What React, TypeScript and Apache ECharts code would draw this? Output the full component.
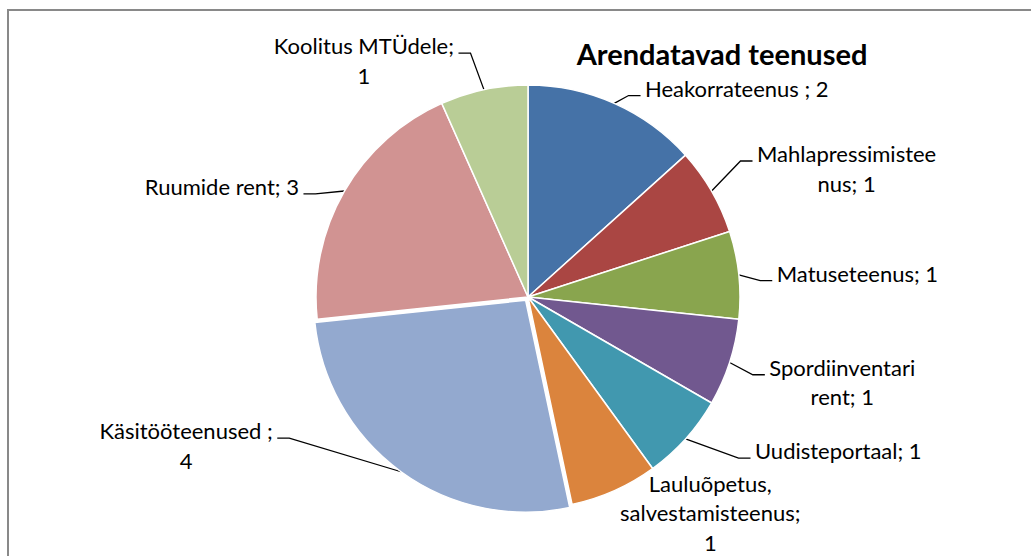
import React, { useEffect, useRef } from "react";
import * as echarts from "echarts";

const chartTitle = "Arendatavad teenused";
const categories = [
  "Heakorrateenus ",
  "Mahlapressimisteenus",
  "Matuseteenus",
  "Spordiinventari rent",
  "Uudisteportaal",
  "Lauluõpetus, salvestamisteenus",
  "Käsitööteenused ",
  "Ruumide rent",
  "Koolitus MTÜdele",
];
const values = [2, 1, 1, 1, 1, 1, 4, 3, 1];
const colors = ["#4572A7", "#AA4643", "#89A54E", "#71588F", "#4198AF", "#DB843D", "#93A9CF", "#D19392", "#B9CD96"];
// character offsets where the label "name; value" wraps onto a new line
const labelBreaks = [[], [17], [], [15], [], [12, 31], [17], [], [17]];
const explodedSlice = [false, false, false, false, false, false, true, false, false];
// label placement: [radial leader length, horizontal leader length]
const leaderLengths = [
  [16.75, 19], [45.5, 1], [17.2, 15.8], [63.1, -25.3], [17.6, 51.4],
  [24.4, -9.1], [-32.7, 142.5], [9.4, 32.3], [30, 18.7],
];
const showLeader = [true, true, true, true, true, false, true, true, true];

const FONT = "Lato, 'Open Sans', sans-serif";
const FS = 22;
const LH = 29.5;

function wrapLabel(i: number): string[] {
  const full = `${categories[i]}; ${values[i]}`;
  const cuts = [0, ...labelBreaks[i], full.length];
  const lines: string[] = [];
  for (let k = 0; k < cuts.length - 1; k++) lines.push(full.slice(cuts[k], cuts[k + 1]).trim());
  return lines;
}

export default function App() {
  const ref = useRef<HTMLDivElement>(null);
  useEffect(() => {
    if (!ref.current) return;
    const chart = echarts.init(ref.current, null, { renderer: "svg" });
    const data = categories.map((name, i) => ({
      name,
      value: values[i],
      selected: explodedSlice[i],
      itemStyle: { color: colors[i] },
      labelLine: { show: showLeader[i], length: leaderLengths[i][0], length2: leaderLengths[i][1] },
    }));
    chart.setOption({
      animation: false,
      title: {
        text: chartTitle,
        left: 722,
        top: 38.5,
        padding: 0,
        textAlign: "center",
        textStyle: { fontFamily: FONT, fontWeight: "bold", fontSize: 29, color: "#000", lineHeight: 29 },
      },
      graphic: [
        {
          type: "rect",
          shape: { x: 8, y: 10, width: 1200, height: 1000 },
          style: { fill: "none", stroke: "#898989", lineWidth: 2 },
          silent: true,
        },
      ],
      series: [
        {
          type: "pie",
          center: [528, 297],
          radius: 212,
          startAngle: 90,
          clockwise: true,
          selectedMode: "single",
          selectedOffset: 4,
          avoidLabelOverlap: false,
          itemStyle: { borderColor: "#ffffff", borderWidth: 1.5 },
          select: { itemStyle: { borderColor: "#ffffff", borderWidth: 1.5 } },
          emphasis: { disabled: true },
          label: {
            show: true,
            position: "outside",
            distanceToLabelLine: 5,
            color: "#000",
            fontFamily: FONT,
            fontSize: FS,
            lineHeight: LH,
            formatter: (p: any) => wrapLabel(p.dataIndex).map((l) => `{c|${l}}`).join("\n"),
            rich: { c: { align: "center", fontFamily: FONT, fontSize: FS, lineHeight: LH, color: "#000" } },
          },
          labelLine: { lineStyle: { color: "#000", width: 1.3 } },
          labelLayout: (params: any) => {
            const i = params.dataIndex;
            if (!showLeader[i] || !params.labelLinePoints) return {};
            const r = params.labelRect;
            const p0 = params.labelLinePoints[0];
            const vy = r.y + LH / 2 + 7.5;
            const rightSide = r.x + r.width / 2 > p0[0];
            const ex = rightSide ? r.x - 4.5 : r.x + r.width + 4.5;
            const vx = rightSide ? ex - 12 : ex + 12;
            return { labelLinePoints: [[p0[0], p0[1]], [vx, vy], [ex, vy]] };
          },
          data,
        },
      ],
    });
    return () => chart.dispose();
  }, []);
  return <div ref={ref} style={{ position: "fixed", left: 0, top: 0, width: 1031, height: 556, background: "#fff" }} />;
}
